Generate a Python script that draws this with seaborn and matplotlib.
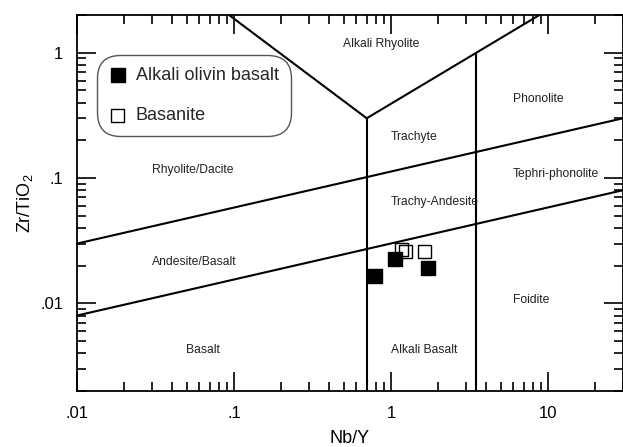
import numpy as np
import pandas as pd
import matplotlib
matplotlib.use("Agg")
import matplotlib.pyplot as plt
import matplotlib.ticker as mticker
import seaborn as sns

# Sample data (Nb/Y vs Zr/TiO2)
aob_nby = [0.795, 1.06, 1.73]
aob_zrti = [0.0165, 0.0227, 0.0191]
bas_nby = [1.17, 1.23, 1.64]
bas_zrti = [0.0268, 0.0261, 0.0261]

# Field boundaries (Winchester & Floyd style), each as x list / y list
upper_diag_x = [0.01, 30]
upper_diag_y = [0.03, 0.3]
lower_diag_x = [0.01, 30]
lower_diag_y = [0.008, 0.08]
v_left_x = [0.093, 0.7]
v_left_y = [2.0, 0.3]
v_right_x = [0.7, 8.8]
v_right_y = [0.3, 2.0]
vert1_x = [0.7, 0.7]
vert1_y = [0.002, 0.3]
vert2_x = [3.5, 3.5]
vert2_y = [0.002, 1.0]

# Field names and where they sit
field_names = ["Alkali Rhyolite", "Phonolite", "Trachyte", "Tephri-phonolite",
               "Trachy-Andesite", "Rhyolite/Dacite", "Andesite/Basalt",
               "Basalt", "Alkali Basalt", "Foidite"]
field_x = [0.87, 8.7, 1.41, 11.2, 1.91, 0.0545, 0.056, 0.0638, 1.63, 7.84]
field_y = [1.18, 0.425, 0.214, 0.107, 0.064, 0.117, 0.0213, 0.00428, 0.00428, 0.0106]

x_ticks = [0.01, 0.1, 1, 10]
x_tick_labels = [".01", ".1", "1", "10"]
y_ticks = [0.01, 0.1, 1]
y_tick_labels = [".01", ".1", "1"]


def main():
    sns.set_theme(style="ticks")
    plt.rcParams['font.family'] = ['Liberation Sans', 'DejaVu Sans']
    plt.rcParams['mathtext.default'] = 'regular'

    fig = plt.figure(figsize=(6.23, 4.47), dpi=100)
    ax = fig.add_axes([0.1236, 0.1253, 1.0 - 0.1236, 0.9664 - 0.1253])

    line_kw = dict(color='black', lw=1.5, solid_capstyle='butt')
    for xs, ys in [(upper_diag_x, upper_diag_y), (lower_diag_x, lower_diag_y),
                   (v_left_x, v_left_y), (v_right_x, v_right_y),
                   (vert1_x, vert1_y), (vert2_x, vert2_y)]:
        ax.plot(xs, ys, **line_kw)

    df_aob = pd.DataFrame({'Nb/Y': aob_nby, 'Zr/TiO2': aob_zrti})
    df_bas = pd.DataFrame({'Nb/Y': bas_nby, 'Zr/TiO2': bas_zrti})
    sns.scatterplot(data=df_aob, x='Nb/Y', y='Zr/TiO2', ax=ax, marker='s', s=90,
                    color='black', edgecolor='black', linewidth=1,
                    label='Alkali olivin basalt', zorder=5)
    sns.scatterplot(data=df_bas, x='Nb/Y', y='Zr/TiO2', ax=ax, marker='s', s=90,
                    facecolor='none', edgecolor='black', linewidth=1,
                    label='Basanite', zorder=5)

    for name, fx, fy in zip(field_names, field_x, field_y):
        ax.text(fx, fy, name, ha='center', va='center', fontsize=8.7, color='#222222')

    ax.set_xscale('log')
    ax.set_yscale('log')
    ax.set_xlim(0.01, 30)
    ax.set_ylim(0.002, 2)

    ax.xaxis.set_major_locator(mticker.FixedLocator(x_ticks))
    ax.xaxis.set_major_formatter(mticker.FixedFormatter(x_tick_labels))
    ax.yaxis.set_major_locator(mticker.FixedLocator(y_ticks))
    ax.yaxis.set_major_formatter(mticker.FixedFormatter(y_tick_labels))
    ax.xaxis.set_minor_locator(mticker.LogLocator(base=10, subs=np.arange(2, 10), numticks=20))
    ax.yaxis.set_minor_locator(mticker.LogLocator(base=10, subs=np.arange(2, 10), numticks=20))
    ax.xaxis.set_minor_formatter(mticker.NullFormatter())
    ax.yaxis.set_minor_formatter(mticker.NullFormatter())

    ax.tick_params(which='both', direction='in', top=True, right=True,
                   width=1.2, color='black', labelsize=12, labelcolor='black')
    ax.tick_params(which='major', length=13.5)
    ax.tick_params(which='minor', length=6.5)
    ax.tick_params(axis='x', pad=10.5)
    ax.tick_params(axis='y', pad=10)

    for sp in ax.spines.values():
        sp.set_color('black')
        sp.set_linewidth(1.3)

    ax.set_xlabel('Nb/Y', fontsize=13, labelpad=6.5, color='black')
    ax.set_ylabel('Zr/TiO$_2$', fontsize=13, labelpad=4, color='black')

    leg = ax.legend(loc='upper left', bbox_to_anchor=(0.0366, 0.8936),
                    borderaxespad=0, fontsize=13, frameon=True, fancybox=True,
                    borderpad=0.65, labelspacing=1.3, handlelength=1.0,
                    handletextpad=0.5, edgecolor='#555555', framealpha=1)
    leg.get_frame().set_linewidth(1.0)
    leg.get_frame().set_boxstyle('round', pad=0, rounding_size=1.3)

    fig.savefig('out.png', dpi=100, facecolor='white')
    plt.close(fig)


if __name__ == "__main__":
    main()
